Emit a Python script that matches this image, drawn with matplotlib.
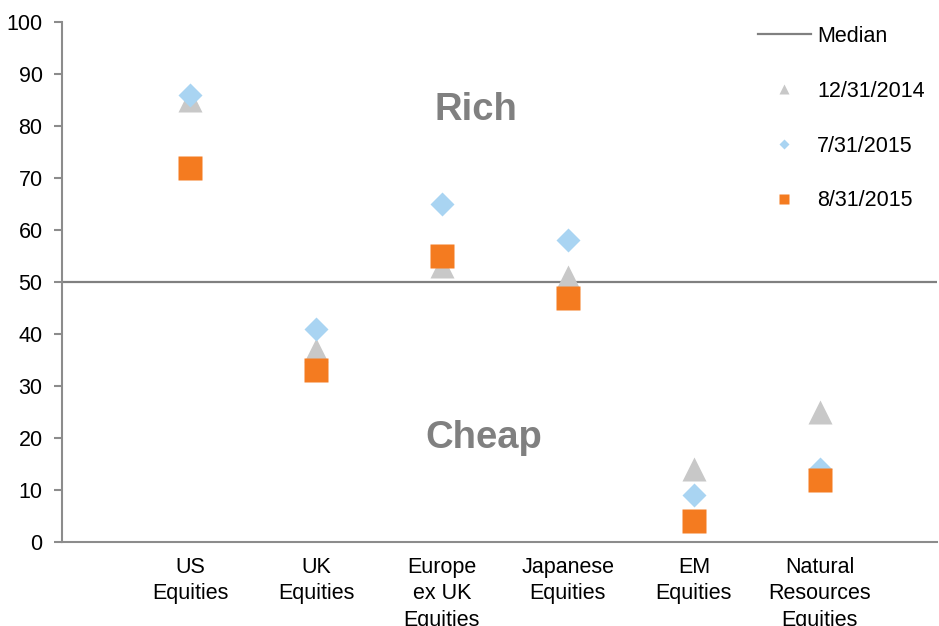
import matplotlib
matplotlib.use("Agg")
import matplotlib.pyplot as plt
from matplotlib.lines import Line2D

plt.rcParams['font.family'] = ['Liberation Sans', 'DejaVu Sans']

categories = ["US\nEquities", "UK\nEquities", "Europe\nex UK\nEquities",
              "Japanese\nEquities", "EM\nEquities", "Natural\nResources\nEquities"]
dec_2014 = [85, 37, 53, 51, 14, 25]
jul_2015 = [86, 41, 65, 58, 9, 14]
aug_2015 = [72, 33, 55, 47, 4, 12]
median = 50
y_ticks = list(range(0, 101, 10))

c_tri = "#C8C8C8"
c_dia = "#A9D4F2"
c_sq = "#F47B20"
c_grey = "#808080"
c_axis = "#8C8C8C"

fs = 15.5

fig = plt.figure(figsize=(9.39, 6.26), dpi=100)
ax = fig.add_axes([62 / 939, 1 - 542 / 626, (937 - 62) / 939, (542 - 22) / 626])

x = list(range(len(categories)))
ax.axhline(median, color=c_grey, lw=1.6, zorder=1)
ax.plot(x, dec_2014, ls="none", marker="^", ms=17.5, color=c_tri, mec="none", zorder=2)
ax.plot(x, jul_2015, ls="none", marker="D", ms=12.7, color=c_dia, mec="none", zorder=3)
ax.plot(x, aug_2015, ls="none", marker="s", ms=17.5, color=c_sq, mec="none", zorder=4)

ax.set_xlim(-1.016, 5.93)
ax.set_ylim(0, 100)
ax.set_yticks(y_ticks)
ax.set_xticks(x)
ax.set_xticklabels(categories, fontsize=fs, linespacing=1.32)
ax.tick_params(axis="x", length=0, pad=11)
ax.tick_params(axis="y", length=6, width=1.5, color=c_axis, pad=8, labelsize=fs)
for s in ("top", "right"):
    ax.spines[s].set_visible(False)
for s in ("left", "bottom"):
    ax.spines[s].set_color(c_axis)
    ax.spines[s].set_linewidth(1.5)

ax.text(2.27, 83.0, "Rich", fontsize=27.5, fontweight="bold", color=c_grey,
        ha="center", va="center")
ax.text(2.33, 20.0, "Cheap", fontsize=27.5, fontweight="bold", color=c_grey,
        ha="center", va="center")

handles = [
    Line2D([], [], color=c_grey, lw=1.6),
    Line2D([], [], ls="none", marker="^", ms=7.5, color=c_tri, mec="none"),
    Line2D([], [], ls="none", marker="D", ms=5.2, color=c_dia, mec="none"),
    Line2D([], [], ls="none", marker="s", ms=7.5, color=c_sq, mec="none"),
]
labels = ["Median", "12/31/2014", "7/31/2015", "8/31/2015"]
fig.legend(handles, labels, loc="upper left", bbox_to_anchor=(758 / 939, 1 - 26 / 626),
           frameon=False, fontsize=fs, handlelength=2.46, handletextpad=0.28,
           labelspacing=1.57, borderpad=0, borderaxespad=0)

fig.savefig("out.png", dpi=100)
